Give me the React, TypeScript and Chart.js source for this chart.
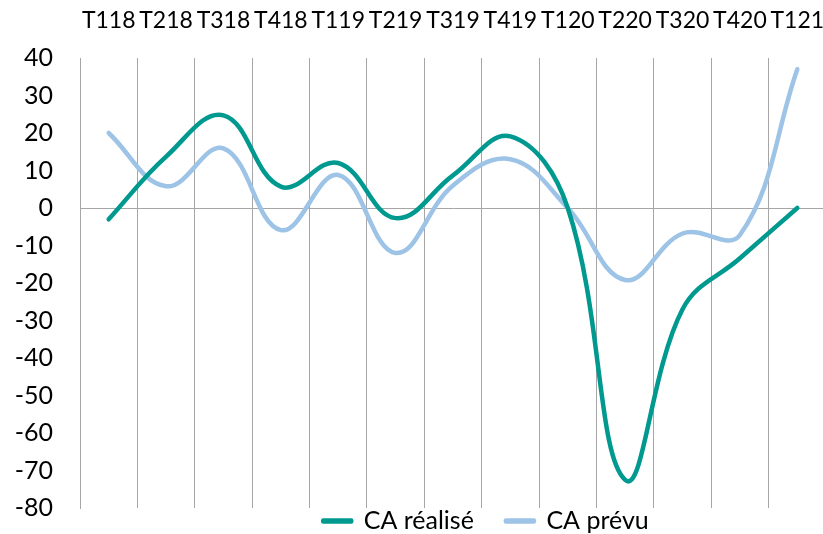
import { useEffect, useRef } from "react";
import { Chart, registerables } from "chart.js";

Chart.register(...registerables);

const categories = ["T118", "T218", "T318", "T418", "T119", "T219", "T319", "T419", "T120", "T220", "T320", "T420", "T121"];
const caRealise = [-3, 13.7, 24.7, 5.7, 12, -2.7, 8.7, 19.1, 0, -72.5, -27, -13.4, 0];
const caPrevu = [20, 5.8, 15.9, -5.9, 8.8, -12, 6, 13, 0, -19.2, -6.8, -7.2, 37];
const seriesNames = ["CA réalisé", "CA prévu"];
const yMin = -80;
const yMax = 40;
const yStep = 10;

const TEAL = "#00998f";
const BLUE = "#9dc3e6";
const GRID = "#a6a6a6";
const FONT = "Lato, 'Open Sans', sans-serif";

export default function App() {
  const ref = useRef<HTMLCanvasElement>(null);

  useEffect(() => {
    if (!ref.current) return;
    const legendPlace = {
      id: "legendPlace",
      afterLayout(chart: any) {
        const lg = chart.legend;
        if (!lg) return;
        const dx = 486 - (lg.left + lg.right) / 2;
        lg.left += dx;
        lg.right += dx;
        const pad = lg.options.labels.padding;
        const fs = lg.options.labels.font.size;
        const dy = 521 - (lg.top + pad + fs / 2);
        lg.top += dy;
        lg.bottom = lg.top + pad + fs * 2;
      },
    };
    const chart = new Chart(ref.current, {
      type: "line",
      data: {
        labels: categories,
        datasets: [
          {
            label: seriesNames[0],
            data: caRealise,
            borderColor: TEAL,
            backgroundColor: TEAL,
            borderWidth: 4.5,
            pointRadius: 0,
            tension: 0.4,
            borderCapStyle: "round",
            borderJoinStyle: "round",
          },
          {
            label: seriesNames[1],
            data: caPrevu,
            borderColor: BLUE,
            backgroundColor: BLUE,
            borderWidth: 4.5,
            pointRadius: 0,
            tension: 0.4,
            borderCapStyle: "round",
            borderJoinStyle: "round",
          },
        ],
      },
      options: {
        animation: false,
        responsive: false,
        maintainAspectRatio: false,
        devicePixelRatio: 1,
        layout: { padding: { left: 0, right: 14, top: 0, bottom: 0 } },
        plugins: {
          tooltip: { enabled: false },
          legend: {
            position: "bottom",
            fullSize: false,
            maxHeight: 26,
            labels: {
              boxWidth: 28,
              boxHeight: 1,
              padding: 32,
              color: "#000",
              font: { family: FONT, size: 25 },
            },
          },
        },
        scales: {
          x: {
            position: "top",
            offset: true,
            grid: { display: true, offset: true, color: GRID, lineWidth: 1, drawTicks: false },
            border: { display: false },
            ticks: { color: "#000", font: { family: FONT, size: 23 }, padding: 24, maxRotation: 0, autoSkip: false },
            afterFit: (s: any) => {
              s.height = 58;
              s.paddingLeft = 0;
              s.paddingRight = 0;
            },
          },
          y: {
            min: yMin,
            max: yMax,
            ticks: { stepSize: yStep, color: "#000", font: { family: FONT, size: 25 }, padding: 27 },
            grid: {
              drawTicks: false,
              color: (ctx: any) => (ctx.tick && ctx.tick.value === 0 ? GRID : "rgba(0,0,0,0)"),
              lineWidth: 1,
            },
            border: { display: true, color: GRID, width: 1 },
            afterFit: (s: any) => {
              s.width = 80;
              s.paddingTop = 0;
              s.paddingBottom = 0;
            },
          },
        },
      },
      plugins: [legendPlace],
    });
    return () => chart.destroy();
  }, []);

  return (
    <div style={{ position: "fixed", left: 0, top: 0, width: 823, height: 534, overflow: "hidden", background: "#fff" }}>
      <canvas ref={ref} width={840} height={534} style={{ display: "block", width: 840, height: 534 }} />
    </div>
  );
}
